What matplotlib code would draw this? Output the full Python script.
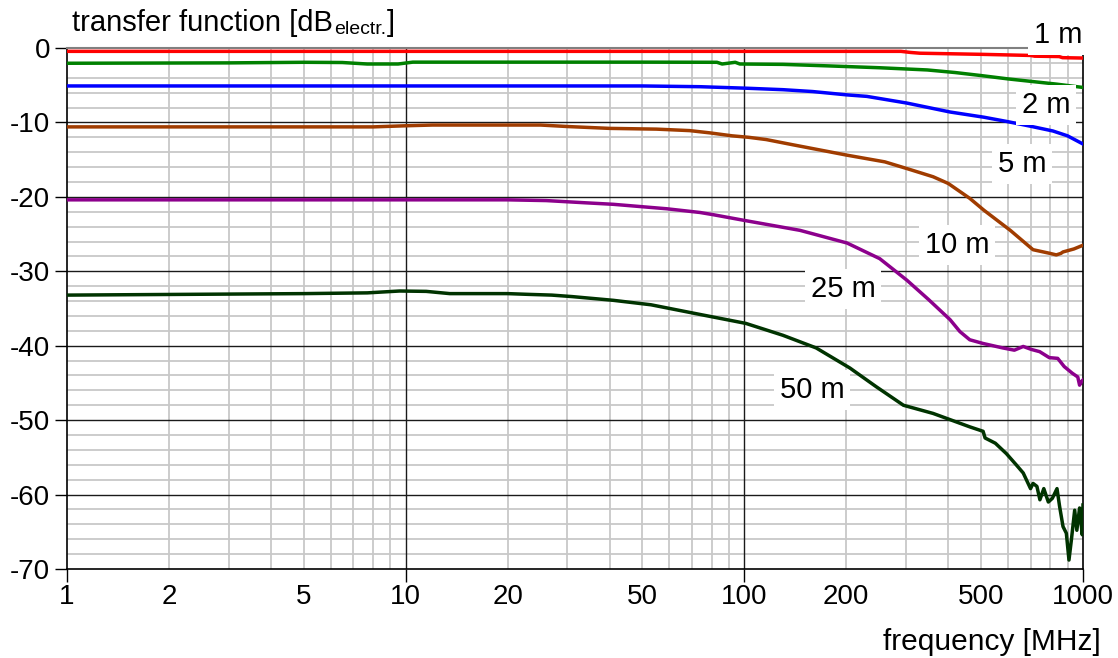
import matplotlib
matplotlib.use("Agg")
import matplotlib.pyplot as plt
from matplotlib.ticker import FixedLocator, FuncFormatter, NullFormatter

plt.rcParams['font.family'] = ['Liberation Sans', 'DejaVu Sans']
plt.rcParams['axes.unicode_minus'] = False

# ---------------- data ----------------
freq_1m = [1, 290, 310, 330, 500, 700, 720, 850, 870, 1000]
db_1m = [-0.45, -0.45, -0.6, -0.7, -0.85, -1.0, -1.1, -1.15, -1.3, -1.35]

freq_2m = [1, 3, 5, 6.5, 7.7, 9.5, 10.5, 20, 50, 83, 86, 94, 97, 130, 176, 250, 347,
           420, 510, 600, 707, 834, 1000]
db_2m = [-2.05, -2.0, -1.92, -1.95, -2.15, -2.15, -1.9, -1.9, -1.9, -1.92, -2.15, -1.92,
         -2.15, -2.2, -2.4, -2.65, -2.95, -3.3, -3.75, -4.15, -4.5, -4.85, -5.3]

freq_5m = [1, 10, 50, 74, 101, 130, 159, 201, 230, 302, 405, 510, 600, 698, 815, 900, 1000]
db_5m = [-5.1, -5.1, -5.1, -5.2, -5.4, -5.6, -5.85, -6.3, -6.5, -7.4, -8.6, -9.3, -9.9,
         -10.5, -11.15, -11.8, -12.9]

freq_10m = [1, 8, 10, 12, 20, 25, 30, 40, 55, 69, 79, 92, 103, 116, 139, 201, 260, 302,
            361, 400, 463, 510, 610, 712, 800, 834, 860, 873, 940, 1000]
db_10m = [-10.6, -10.6, -10.45, -10.35, -10.35, -10.35, -10.55, -10.8, -10.9, -11.1, -11.4,
          -11.8, -12.0, -12.3, -13.0, -14.4, -15.3, -16.2, -17.3, -18.2, -20.2, -21.8,
          -24.5, -27.1, -27.6, -27.8, -27.6, -27.4, -27.0, -26.5]

freq_25m = [1, 10, 20, 26, 34, 41, 59, 74, 81, 101, 146, 201, 251, 302, 350, 405, 433, 463,
            507, 580, 627, 666, 704, 745, 795, 842, 880, 930, 965, 977, 990, 1000]
db_25m = [-20.4, -20.4, -20.4, -20.5, -20.8, -21.0, -21.6, -22.1, -22.4, -23.2, -24.5,
          -26.2, -28.3, -31.2, -33.8, -36.5, -38.1, -39.2, -39.7, -40.3, -40.6, -40.1,
          -40.5, -40.8, -41.6, -41.7, -42.8, -43.7, -44.2, -45.3, -44.8, -44.6]

freq_50m = [1, 5, 7.7, 9.6, 11.5, 13.5, 20, 23, 27, 31, 41, 53, 74, 101, 130, 163, 205,
            245, 295, 361, 463, 507, 514, 551, 594, 635, 666, 700, 712, 731, 746, 766, 790,
            812, 838, 853, 873, 893, 909, 924, 945, 959, 977, 995, 1000]
db_50m = [-33.2, -33.0, -32.9, -32.65, -32.7, -33.0, -33.0, -33.1, -33.2, -33.4, -33.9,
          -34.5, -35.8, -37.0, -38.6, -40.3, -43.0, -45.5, -48.0, -49.1, -50.9, -51.5,
          -52.4, -53.1, -54.5, -56.0, -57.1, -59.2, -58.5, -58.9, -60.7, -59.2, -61.0,
          -60.5, -59.2, -61.6, -64.3, -65.2, -68.8, -66.1, -62.1, -64.8, -61.8, -65.4, -61.4]

series = [
    (freq_1m, db_1m, '#ff0000'),
    (freq_2m, db_2m, '#008000'),
    (freq_5m, db_5m, '#0000ff'),
    (freq_10m, db_10m, '#a03c00'),
    (freq_25m, db_25m, '#8c008c'),
    (freq_50m, db_50m, '#003300'),
]

labels = ['1 m', '2 m', '5 m', '10 m', '25 m', '50 m']
label_px = [(1058, 43), (1046, 113), (1022, 172), (957, 253), (843, 297), (812, 398)]

x_major = [1, 10, 100, 1000]
x_labeled = [1, 2, 5, 10, 20, 50, 100, 200, 500, 1000]
y_major = [0, -10, -20, -30, -40, -50, -60, -70]

# ---------------- figure ----------------
W, H = 1118, 658
fig = plt.figure(figsize=(W / 100, H / 100), dpi=100)
ax = fig.add_axes([67 / W, 1 - 569 / H, (1083 - 67) / W, (569 - 48) / H])

ax.set_xscale('log')
ax.set_xlim(1, 1000)
ax.set_ylim(-70, 0)

for f, d, c in series:
    ax.plot(f, d, color=c, lw=2.5, zorder=4, solid_joinstyle='round')

# ticks
ax.xaxis.set_major_locator(FixedLocator(x_major))
minors = [m * 10 ** e for e in range(3) for m in range(2, 10)]
ax.xaxis.set_minor_locator(FixedLocator(minors))
fmt = lambda v, p: ('%g' % v) if any(abs(v - t) < 1e-9 for t in x_labeled) else ''
ax.xaxis.set_major_formatter(FuncFormatter(fmt))
ax.xaxis.set_minor_formatter(FuncFormatter(fmt))
ax.yaxis.set_major_locator(FixedLocator(y_major))
ax.yaxis.set_minor_locator(FixedLocator(list(range(-70, 1, 2))))
ax.yaxis.set_minor_formatter(NullFormatter())

ax.tick_params(axis='both', which='major', length=9, width=1, color='black',
               labelsize=20, direction='out')
ax.tick_params(axis='x', which='major', pad=2)
ax.tick_params(axis='x', which='minor', length=0, labelsize=20, pad=11)
ax.tick_params(axis='y', which='minor', length=0)
ax.tick_params(axis='y', which='major', pad=3)

# light minor grid (all decade/2-dB positions), dark major grid on top
ax.grid(True, which='minor', color='#c8c8c8', lw=1.3)
ax.set_axisbelow(True)
for xv in x_major[1:-1]:
    ax.axvline(xv, color='#1a1a1a', lw=1.0, zorder=1.5)
for yv in y_major[1:-1]:
    ax.axhline(yv, color='#1a1a1a', lw=1.0, zorder=1.5)

for s in ['left', 'bottom', 'right']:
    ax.spines[s].set_color('black')
    ax.spines[s].set_linewidth(1.2)
ax.spines['top'].set_color('#808080')
ax.spines['top'].set_linewidth(1.5)

# labels on curves
for lab, (px, py) in zip(labels, label_px):
    fig.text(px / W, 1 - py / H, lab, ha='center', va='baseline', fontsize=21,
             zorder=10,
             bbox=dict(facecolor='white', edgecolor='none', boxstyle='square,pad=0.2'))

# title with subscript built from pieces
renderer = fig.canvas.get_renderer()
t1 = fig.text(72 / W, 1 - 31 / H, 'transfer function [dB', ha='left', va='baseline',
              fontsize=21)
x1 = t1.get_window_extent(renderer).x1
t2 = fig.text(x1 / W + 0.001, 1 - 34 / H, 'electr.', ha='left', va='baseline', fontsize=14)
x2 = t2.get_window_extent(renderer).x1
fig.text(x2 / W + 0.001, 1 - 31 / H, ']', ha='left', va='baseline', fontsize=21)

fig.text(1101 / W, 1 - 650 / H, 'frequency [MHz]', ha='right', va='baseline', fontsize=21.5)

fig.savefig('out.png', dpi=100, facecolor='white')
